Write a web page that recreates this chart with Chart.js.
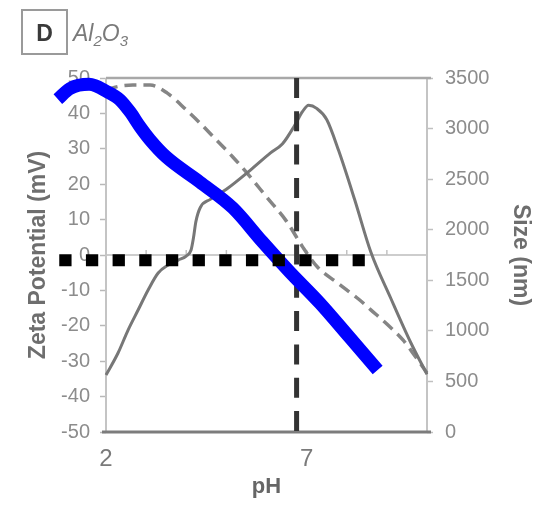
<!DOCTYPE html>
<html>
<head>
<meta charset="utf-8">
<title>Al2O3 zeta potential and particle size vs pH</title>
<script src="https://cdn.jsdelivr.net/npm/chart.js@4.4.1/dist/chart.umd.min.js"></script>
<style>
  html, body { margin: 0; padding: 0; background: #ffffff; }
  #wrap { position: relative; width: 539px; height: 506px; }
  #chart { position: absolute; left: 0; top: 0; }
  #panel {
    position: absolute; left: 21px; top: 9px; width: 43px; height: 42px;
    border: 2px solid #9a9a9a; color: #3a3a3a; text-align: center;
    font: bold 23px "Liberation Sans", Arial, sans-serif; line-height: 44px;
  }
  #material {
    position: absolute; left: 73px; top: 22px; color: #7a7a7a; white-space: nowrap;
    font: italic 23px "Liberation Sans", Arial, sans-serif; line-height: 23px;
  }
  #material sub { font-size: 15px; vertical-align: -5px; line-height: 0; }
</style>
</head>
<body>
<div id="wrap">
  <canvas id="chart" width="539" height="506"></canvas>
  <div id="panel">D</div>
  <div id="material">Al<sub>2</sub>O<sub>3</sub></div>
</div>
<script>
// Particle size (nm) measured across the pH sweep (right axis)
const phSize = [2.0, 2.3, 2.55, 2.8, 3.05, 3.3, 3.55, 3.8, 4.0, 4.12, 4.18, 4.24, 4.35, 4.6, 5.0, 5.6, 6.1, 6.4, 6.7, 6.9, 7.05, 7.25, 7.5, 7.8, 8.2, 8.6, 9.1, 9.6, 10.0];
const sizeNm = [563, 781, 1008, 1206, 1404, 1572, 1651, 1700, 1740, 1800, 1920, 2080, 2220, 2300, 2400, 2590, 2760, 2850, 3030, 3170, 3230, 3200, 3090, 2780, 2294, 1780, 1320, 880, 570];

// Zeta potential (mV) measured across the pH sweep (left axis)
const phZeta = [2.0, 2.3, 2.67, 3.1, 3.52, 4.0, 4.34, 4.75, 5.16, 5.6, 6.0, 6.5, 6.9, 7.27, 7.77, 8.3, 8.6, 9.0, 9.4, 9.7, 10.0];
const zetaMv = [46.6, 47.6, 48, 48, 45.8, 41, 37.3, 32.5, 27.7, 22, 16.4, 9.5, 2.3, -3.4, -7.9, -12.5, -15.5, -19.5, -24, -28.5, -33.3];

// Hand-drawn trend of the zeta potential
const phTrend = [0.8, 1.1, 1.58, 2.05, 2.35, 2.6, 2.85, 3.1, 3.5, 4.34, 5.16, 5.9, 6.58, 7.33, 8.08, 8.77];
const zetaTrend = [44, 47, 48.2, 46, 43.8, 40.4, 36.2, 32.5, 27.7, 20.6, 13.3, 3.7, -4.8, -13.6, -23.4, -32.5];

// Reference markers
const isoelectricPh = 6.75;
const zeroRefPh = [0.835, 8.45];
const zeroRefZeta = -1.5;

// Axis ranges and tick labels
const phRange = [2, 10];
const phTickLabels = [2, 7];
const phMinorTicks = [3, 4, 5, 6, 7, 8, 9];
const zetaRange = [-50, 50];
const zetaStep = 10;
const sizeRange = [0, 3500];
const sizeStep = 500;

const FONT = '"Liberation Sans", Arial, sans-serif';
const xy = (xs, ys) => xs.map((x, i) => ({ x, y: ys[i] }));

// Plot frame, zero line and its small pH tick marks
const framePlugin = {
  id: 'frame',
  beforeDatasetsDraw(chart) {
    const { ctx, chartArea: a, scales } = chart;
    const y0 = scales.y.getPixelForValue(0);
    ctx.save();
    ctx.lineCap = 'butt';
    ctx.strokeStyle = '#cdcdcd';
    ctx.lineWidth = 2;
    ctx.beginPath(); ctx.moveTo(a.left, y0); ctx.lineTo(a.right, y0); ctx.stroke();
    ctx.strokeStyle = '#c2c2c2';
    ctx.lineWidth = 1.5;
    phMinorTicks.forEach(v => {
      const px = scales.x.getPixelForValue(v);
      ctx.beginPath(); ctx.moveTo(px, y0); ctx.lineTo(px, y0 - 5); ctx.stroke();
    });
    ctx.strokeStyle = '#c4c4c4';
    ctx.lineWidth = 2;
    ctx.beginPath(); ctx.moveTo(a.left, a.top); ctx.lineTo(a.left, a.bottom); ctx.stroke();
    ctx.beginPath(); ctx.moveTo(a.right, a.top); ctx.lineTo(a.right, a.bottom); ctx.stroke();
    ctx.strokeStyle = '#a8a8a8';
    ctx.lineWidth = 2.5;
    ctx.beginPath(); ctx.moveTo(a.left, a.top); ctx.lineTo(a.right + 4, a.top); ctx.stroke();
    ctx.strokeStyle = '#7c7c7c';
    ctx.lineWidth = 3;
    ctx.beginPath(); ctx.moveTo(a.left - 4, a.bottom); ctx.lineTo(a.right + 4, a.bottom); ctx.stroke();
    ctx.restore();
  }
};

new Chart(document.getElementById('chart'), {
  type: 'line',
  data: {
    datasets: [
      {
        data: xy(zeroRefPh, [zeroRefZeta, zeroRefZeta]),
        yAxisID: 'y', borderColor: '#000000', borderWidth: 12,
        borderDash: [12.3, 14.37], borderCapStyle: 'butt', clip: false
      },
      {
        data: xy(phTrend, zetaTrend),
        yAxisID: 'y', borderColor: '#0000ff', borderWidth: 13,
        cubicInterpolationMode: 'monotone', borderCapStyle: 'butt',
        borderJoinStyle: 'round', clip: false
      },
      {
        data: xy([isoelectricPh, isoelectricPh], [zetaRange[1], zetaRange[0]]),
        yAxisID: 'y', borderColor: '#333333', borderWidth: 5,
        borderDash: [20, 13.3], borderCapStyle: 'butt', clip: false
      },
      {
        data: xy(phSize, sizeNm),
        yAxisID: 'y2', borderColor: '#777777', borderWidth: 3,
        cubicInterpolationMode: 'monotone'
      },
      {
        data: xy(phZeta, zetaMv),
        yAxisID: 'y', borderColor: '#858585', borderWidth: 3.5,
        borderDash: [12, 7], cubicInterpolationMode: 'monotone'
      }
    ]
  },
  options: {
    responsive: false,
    animation: false,
    devicePixelRatio: 1,
    layout: { padding: { top: 78, left: 0, right: 0, bottom: 0 } },
    elements: { point: { radius: 0, hoverRadius: 0 } },
    plugins: { legend: { display: false }, tooltip: { enabled: false } },
    scales: {
      x: {
        type: 'linear', position: 'bottom', bounds: 'data',
        afterDataLimits: s => { s.min = phRange[0]; s.max = phRange[1]; },
        afterBuildTicks: s => { s.ticks = phTickLabels.map(v => ({ value: v })); },
        afterFit: s => { s.height = 74; },
        grid: { display: false, drawTicks: false },
        border: { display: false },
        ticks: {
          font: { family: FONT, size: 24 }, color: '#7a7a7a', padding: 13,
          maxRotation: 0, autoSkip: false, callback: v => String(v)
        },
        title: {
          display: true, text: 'pH', color: '#666666',
          font: { family: FONT, size: 22, weight: 'bold' }, padding: { top: 0, bottom: 6 }
        }
      },
      y: {
        type: 'linear', position: 'left',
        min: zetaRange[0], max: zetaRange[1],
        afterFit: s => { s.width = 106; },
        grid: { color: 'rgba(0,0,0,0)', tickColor: '#b8b8b8', tickLength: 6, tickWidth: 1.5 },
        border: { display: false },
        ticks: {
          stepSize: zetaStep, font: { family: FONT, size: 20 }, color: '#8c8c8c', padding: 10,
          callback: v => String(v)
        },
        title: {
          display: true, text: 'Zeta Potential (mV)', color: '#6e6e6e',
          font: { family: FONT, size: 23, weight: 'bold' }, padding: { top: 25, bottom: 0 }
        }
      },
      y2: {
        type: 'linear', position: 'right',
        min: sizeRange[0], max: sizeRange[1],
        afterFit: s => { s.width = 112; },
        grid: { drawOnChartArea: false, color: '#c0c0c0', tickColor: '#c0c0c0', tickLength: 6, tickWidth: 1.5 },
        border: { display: false },
        ticks: {
          stepSize: sizeStep, font: { family: FONT, size: 20 }, color: '#8c8c8c', padding: 12,
          callback: v => String(v)
        },
        title: {
          display: true, text: 'Size (nm)', color: '#6e6e6e',
          font: { family: FONT, size: 23, weight: 'bold' }, padding: { top: 5, bottom: 0 }
        }
      }
    }
  },
  plugins: [framePlugin]
});
</script>
</body>
</html>
